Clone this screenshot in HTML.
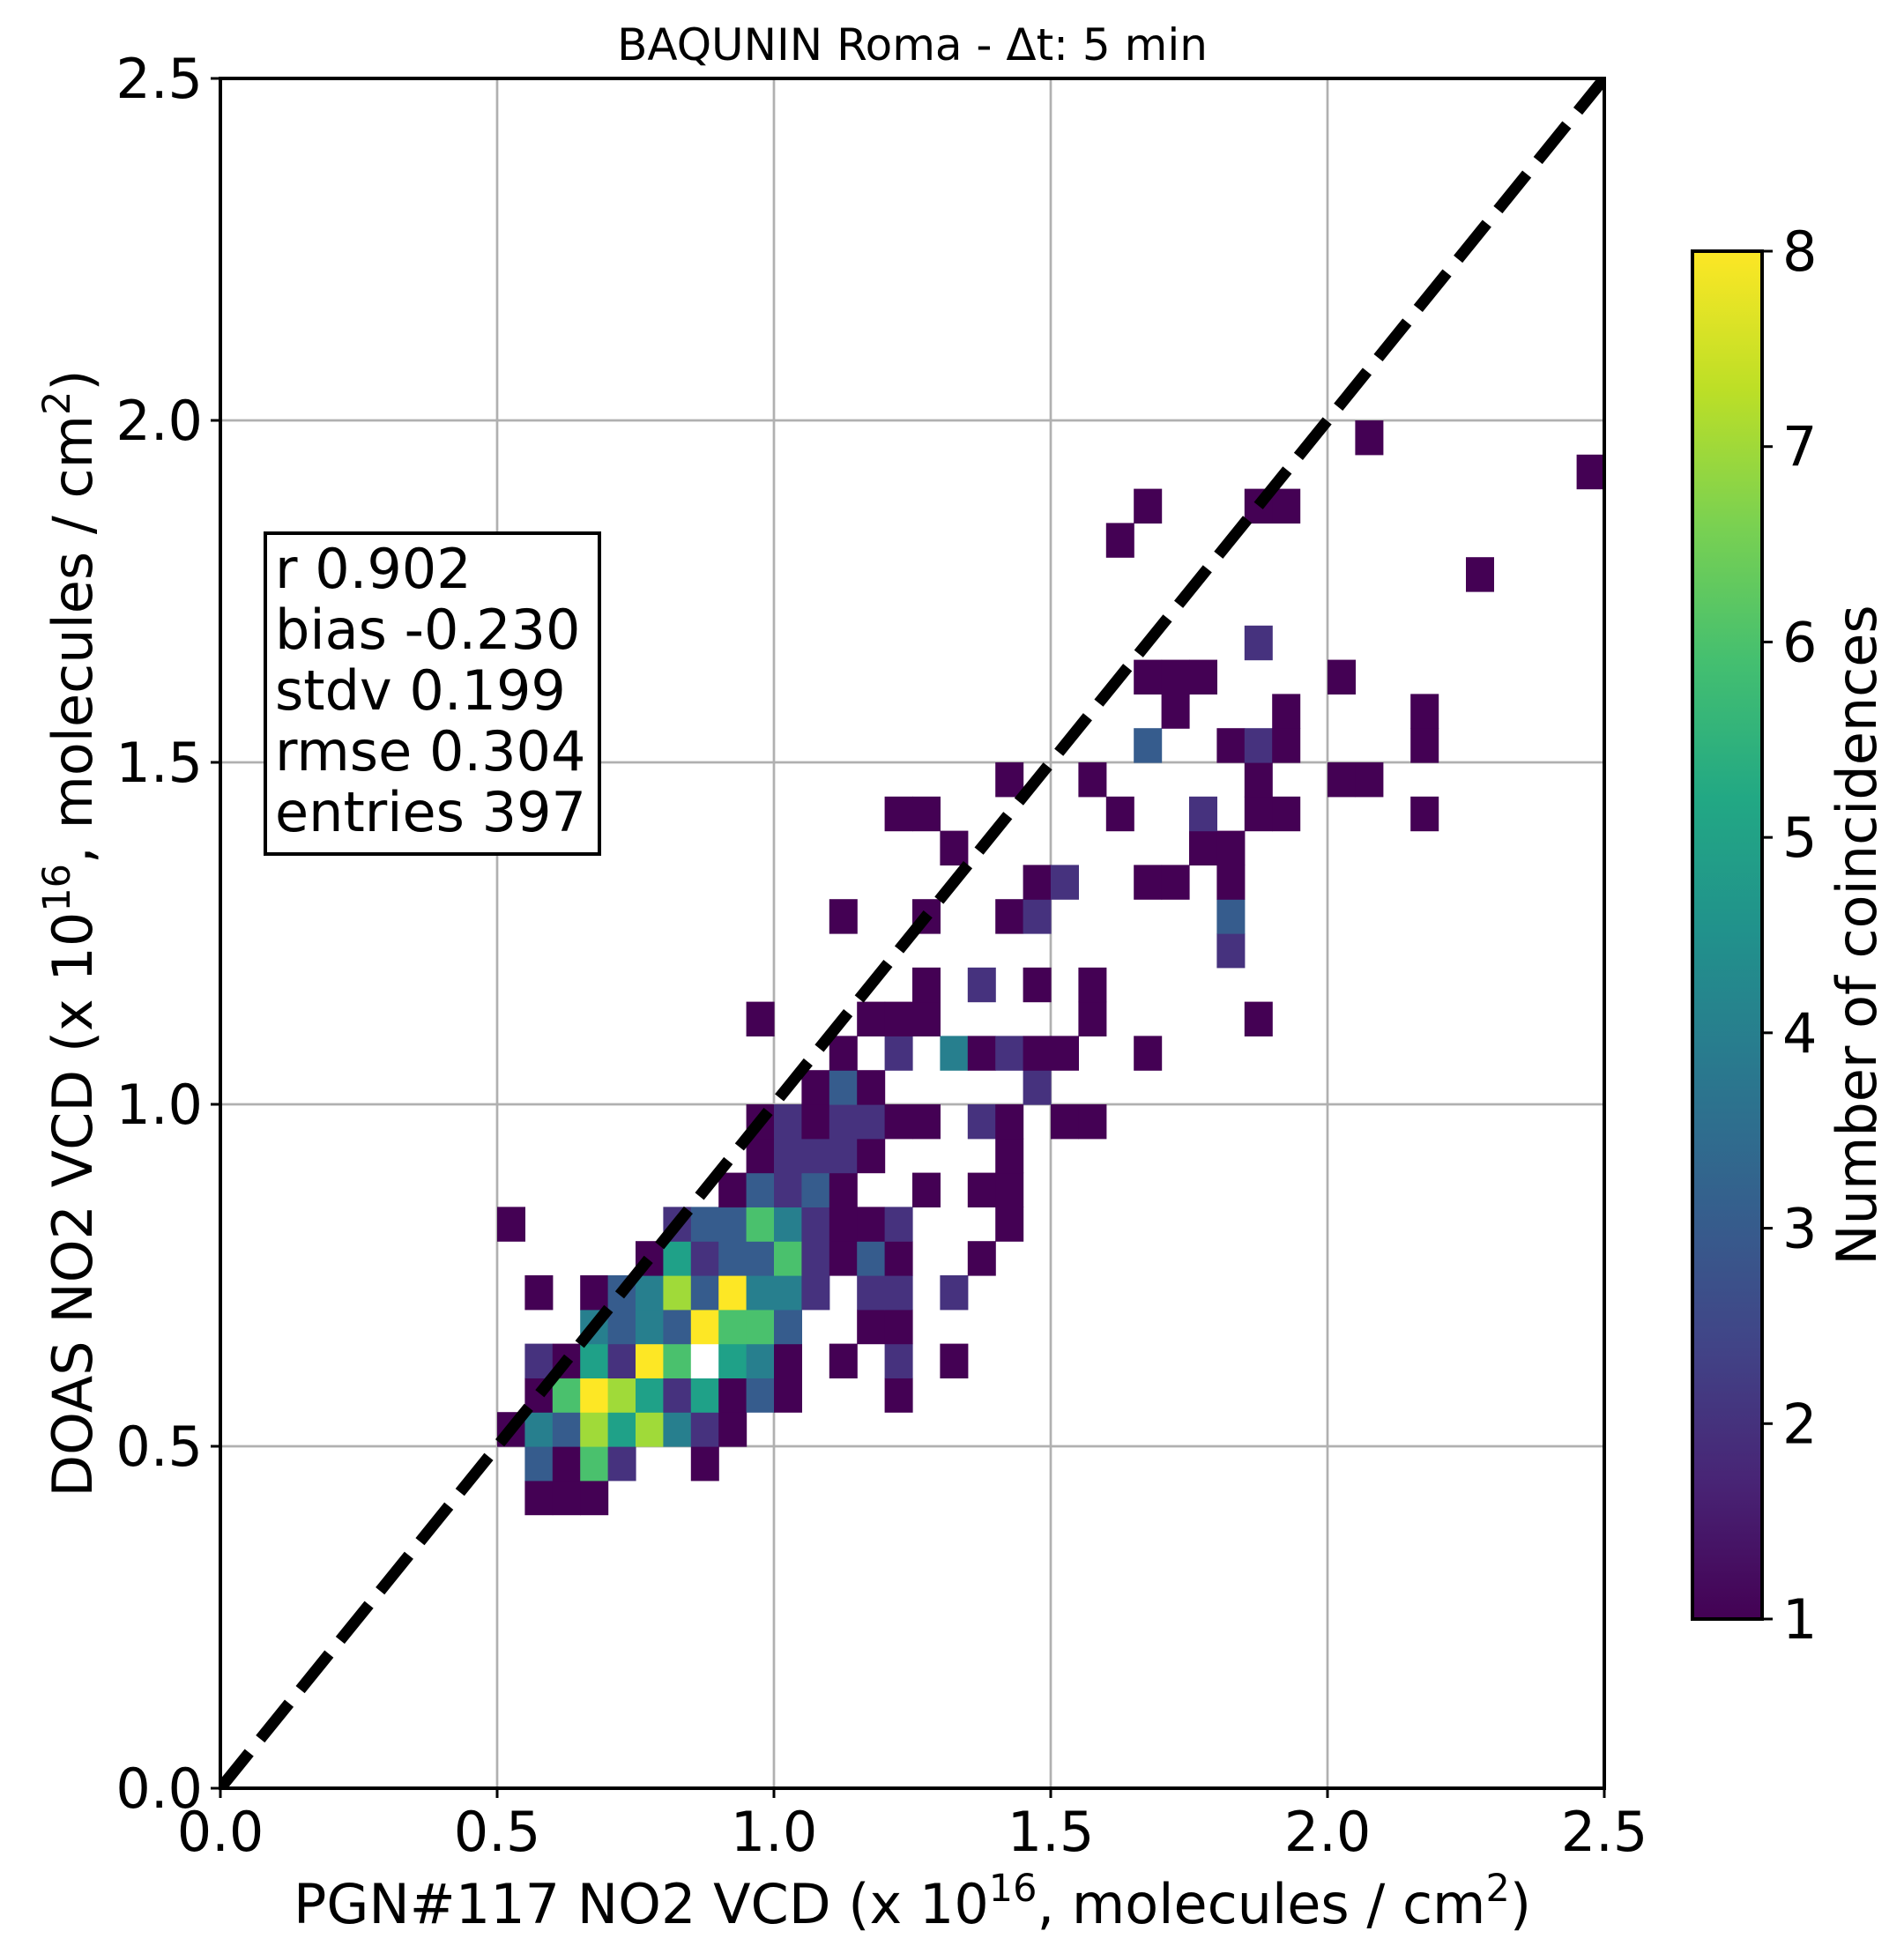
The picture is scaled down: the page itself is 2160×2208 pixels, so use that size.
<!DOCTYPE html>
<html><head><meta charset="utf-8"><style>
html,body{margin:0;padding:0;background:#fff;}
svg{display:block;font-family:"DejaVu Sans","Liberation Sans",sans-serif;}
</style></head><body>
<svg id="chart" width="2160" height="2208" viewBox="0 0 2160 2208" xmlns="http://www.w3.org/2000/svg">
<defs>
<linearGradient id="vir" x1="0" y1="1" x2="0" y2="0">
<stop offset="0" stop-color="#440154"/><stop offset="0.1" stop-color="#482475"/><stop offset="0.2" stop-color="#414487"/><stop offset="0.3" stop-color="#355f8d"/><stop offset="0.4" stop-color="#2a788e"/><stop offset="0.5" stop-color="#21918c"/><stop offset="0.6" stop-color="#22a884"/><stop offset="0.7" stop-color="#44bf70"/><stop offset="0.8" stop-color="#7ad151"/><stop offset="0.9" stop-color="#bddf26"/><stop offset="1" stop-color="#fde725"/>
</linearGradient>
<clipPath id="plotclip"><rect x="250" y="89" width="1570" height="1940"/></clipPath>
</defs>
<g id="grid"></g>
<g id="cells"></g>
<g id="diag"></g>
<g id="axes"></g>
<text x="1035" y="68" font-size="50" text-anchor="middle">BAQUNIN Roma - Δt: 5 min</text>
<text x="1035" y="2182" font-size="62" text-anchor="middle">PGN#117 NO2 VCD (x 10<tspan font-size="43" dy="-25">16</tspan><tspan dy="25">, molecules / cm</tspan><tspan font-size="43" dy="-25">2</tspan><tspan dy="25">)</tspan></text>
<text transform="translate(104,1059) rotate(-90)" font-size="62" text-anchor="middle">DOAS NO2 VCD (x 10<tspan font-size="43" dy="-25">16</tspan><tspan dy="25">, molecules / cm</tspan><tspan font-size="43" dy="-25">2</tspan><tspan dy="25">)</tspan></text>
<g>
<rect x="301" y="605" width="379" height="364" fill="#fff" stroke="#000" stroke-width="4"/>
<text x="312" y="667" font-size="62">r 0.902</text>
<text x="312" y="736" font-size="62">bias -0.230</text>
<text x="312" y="805" font-size="62">stdv 0.199</text>
<text x="312" y="874" font-size="62">rmse 0.304</text>
<text x="312" y="943" font-size="62">entries 397</text>
</g>
<g id="cbar">
<rect x="1920" y="285" width="79" height="1552" fill="url(#vir)" stroke="#000" stroke-width="4"/>
</g>
<text transform="translate(2128,1061) rotate(-90)" font-size="62" text-anchor="middle">Number of coincidences</text>
</svg>
<script>
// bin lower edges (data units) and counts for the 2D histogram
const binX = [0.55,0.60,0.65, 0.55,0.60,0.65,0.70,0.85, 0.50,0.55,0.60,0.65,0.70,0.75,0.80,0.85,0.90,
0.55,0.60,0.65,0.70,0.75,0.80,0.85,0.90,0.95,1.00,1.20,
0.55,0.60,0.65,0.70,0.75,0.80,0.85,0.90,0.95,1.00,1.10,1.20,1.30,
0.65,0.70,0.75,0.80,0.85,0.90,0.95,1.00,1.15,1.20,
0.55,0.65,0.70,0.75,0.80,0.85,0.90,0.95,1.00,1.05,1.15,1.20,1.30,
0.75,0.80,0.85,0.90,0.95,1.00,1.05,1.10,1.15,1.20,1.35,
0.50,0.80,0.85,0.90,0.95,1.00,1.05,1.10,1.15,1.20,1.40,
0.90,0.95,1.00,1.05,1.10,1.25,1.35,1.40,
0.95,1.00,1.05,1.10,1.15,1.40,
0.95,1.00,1.05,1.10,1.15,1.20,1.25,1.35,1.40,1.50,1.55,
1.05,1.10,1.15,1.45,
1.10,1.20,1.30,1.35,1.40,1.45,1.50,1.65,
0.95,1.15,1.20,1.25,1.55,1.85,
1.25,1.35,1.45,1.55,
1.80,
1.10,1.25,1.40,1.45,1.80,
1.45,1.50,1.65,1.70,1.80,
1.30,1.75,1.80,
1.20,1.25,1.60,1.75,1.85,1.90,2.15,
1.40,1.55,1.85,2.00,2.05,
1.65,1.80,1.85,1.90,2.15,
1.70,1.90,2.15,
1.65,1.70,1.75,2.00,
1.85,
2.25,
1.60,
1.65,1.85,1.90,
2.45,
2.05];
const binY = [0.40,0.40,0.40, 0.45,0.45,0.45,0.45,0.45, 0.50,0.50,0.50,0.50,0.50,0.50,0.50,0.50,0.50,
0.55,0.55,0.55,0.55,0.55,0.55,0.55,0.55,0.55,0.55,0.55,
0.60,0.60,0.60,0.60,0.60,0.60,0.60,0.60,0.60,0.60,0.60,0.60,0.60,
0.65,0.65,0.65,0.65,0.65,0.65,0.65,0.65,0.65,0.65,
0.70,0.70,0.70,0.70,0.70,0.70,0.70,0.70,0.70,0.70,0.70,0.70,0.70,
0.75,0.75,0.75,0.75,0.75,0.75,0.75,0.75,0.75,0.75,0.75,
0.80,0.80,0.80,0.80,0.80,0.80,0.80,0.80,0.80,0.80,0.80,
0.85,0.85,0.85,0.85,0.85,0.85,0.85,0.85,
0.90,0.90,0.90,0.90,0.90,0.90,
0.95,0.95,0.95,0.95,0.95,0.95,0.95,0.95,0.95,0.95,0.95,
1.00,1.00,1.00,1.00,
1.05,1.05,1.05,1.05,1.05,1.05,1.05,1.05,
1.10,1.10,1.10,1.10,1.10,1.10,
1.15,1.15,1.15,1.15,
1.20,
1.25,1.25,1.25,1.25,1.25,
1.30,1.30,1.30,1.30,1.30,
1.35,1.35,1.35,
1.40,1.40,1.40,1.40,1.40,1.40,1.40,
1.45,1.45,1.45,1.45,1.45,
1.50,1.50,1.50,1.50,1.50,
1.55,1.55,1.55,
1.60,1.60,1.60,1.60,
1.65,
1.75,
1.80,
1.85,1.85,1.85,
1.90,
1.95];
const counts = [1,1,1, 3,1,6,2,1, 1,4,3,7,5,7,4,2,1,
1,6,8,7,5,2,5,1,3,1,1,
2,1,5,2,8,6,9,5,4,1,1,2,1,
4,3,4,3,8,6,6,3,1,1,
1,1,3,4,7,3,8,4,4,2,2,2,2,
1,5,2,3,3,6,2,1,3,1,1,
1,2,3,3,6,4,2,1,1,2,1,
1,3,2,3,1,1,1,1,
1,2,2,2,1,1,
1,2,1,2,2,1,1,2,1,1,1,
1,3,1,2,
1,2,4,1,2,1,1,1,
1,1,1,1,1,1,
1,2,1,1,
2,
1,1,1,2,3,
1,2,1,1,1,
1,1,1,
1,1,1,2,1,1,1,
1,1,1,1,1,
3,1,2,1,1,
1,1,1,
1,1,1,1,
2,
1,
1,
1,1,1,
1,
1];
const xTicks = [0.0,0.5,1.0,1.5,2.0,2.5];
const yTicks = [0.0,0.5,1.0,1.5,2.0,2.5];
const cbTicks = [1,2,3,4,5,6,7,8];
const binW = 0.05;

const NS = 'http://www.w3.org/2000/svg';
const X0=250, X1=1820, Y0=2029, Y1=89;
function xs(v){return X0+(v/2.5)*(X1-X0);}
function ys(v){return Y0-(v/2.5)*(Y0-Y1);}
const CB_TOP=285, CB_BOT=1837;
function cs(v){return CB_BOT-(v-1)/7*(CB_BOT-CB_TOP);}
const palette=['#440154','#46327e','#365c8d','#277f8e','#1fa188','#4ac16d','#a0da39','#fde725'];
function mk(tag,attrs,parent){const e=document.createElementNS(NS,tag);for(const k in attrs)e.setAttribute(k,attrs[k]);parent.appendChild(e);return e;}

const grid=document.getElementById('grid');
xTicks.forEach(t=>{const l=mk('line',{x1:xs(t),x2:xs(t),y1:Y1,y2:Y0,stroke:'#b0b0b0','stroke-width':2.7},grid);

});
yTicks.forEach(t=>{const l=mk('line',{x1:X0,x2:X1,y1:ys(t),y2:ys(t),stroke:'#b0b0b0','stroke-width':2.7},grid);

});

const cells=document.getElementById('cells');
for(let k=0;k<counts.length;k++){
  const v=counts[k];
  const fill = v>8 ? '#ffffff' : palette[Math.max(1,v)-1];
  const x=xs(binX[k]), x2=xs(binX[k]+binW), y=ys(binY[k]+binW), y2=ys(binY[k]);
  const r=mk('rect',{x:x,y:y,width:x2-x+0.6,height:y2-y+0.6,fill:fill},cells);
  
  
}

const diag=document.getElementById('diag');
const dl=mk('line',{x1:xs(0),y1:ys(0),x2:xs(2.5),y2:ys(2.5),stroke:'#000','stroke-width':13,'stroke-dasharray':'52 20','clip-path':'url(#plotclip)'},diag);



const axes=document.getElementById('axes');
const frame=mk('rect',{x:X0,y:Y1,width:X1-X0,height:Y0-Y1,fill:'none',stroke:'#000','stroke-width':4},axes);


xTicks.forEach(t=>{
  const l=mk('line',{x1:xs(t),x2:xs(t),y1:Y0,y2:Y0+11,stroke:'#000','stroke-width':3},axes);
  
  
  const tx=mk('text',{x:xs(t),y:2100,'font-size':62,'text-anchor':'middle'},axes);
  tx.textContent=t.toFixed(1);
  
  
});
yTicks.forEach(t=>{
  const l=mk('line',{x1:X0-11,x2:X0,y1:ys(t),y2:ys(t),stroke:'#000','stroke-width':3},axes);
  
  
  const tx=mk('text',{x:230,y:ys(t)+22,'font-size':62,'text-anchor':'end'},axes);
  tx.textContent=t.toFixed(1);
  
  
});
const cb=document.getElementById('cbar');
cbTicks.forEach(t=>{
  const l=mk('line',{x1:1999,x2:2011,y1:cs(t),y2:cs(t),stroke:'#000','stroke-width':3},cb);
  
  
  const tx=mk('text',{x:2022,y:cs(t)+22,'font-size':62},cb);
  tx.textContent=String(t);
  
  
});
</script>
</body></html>
